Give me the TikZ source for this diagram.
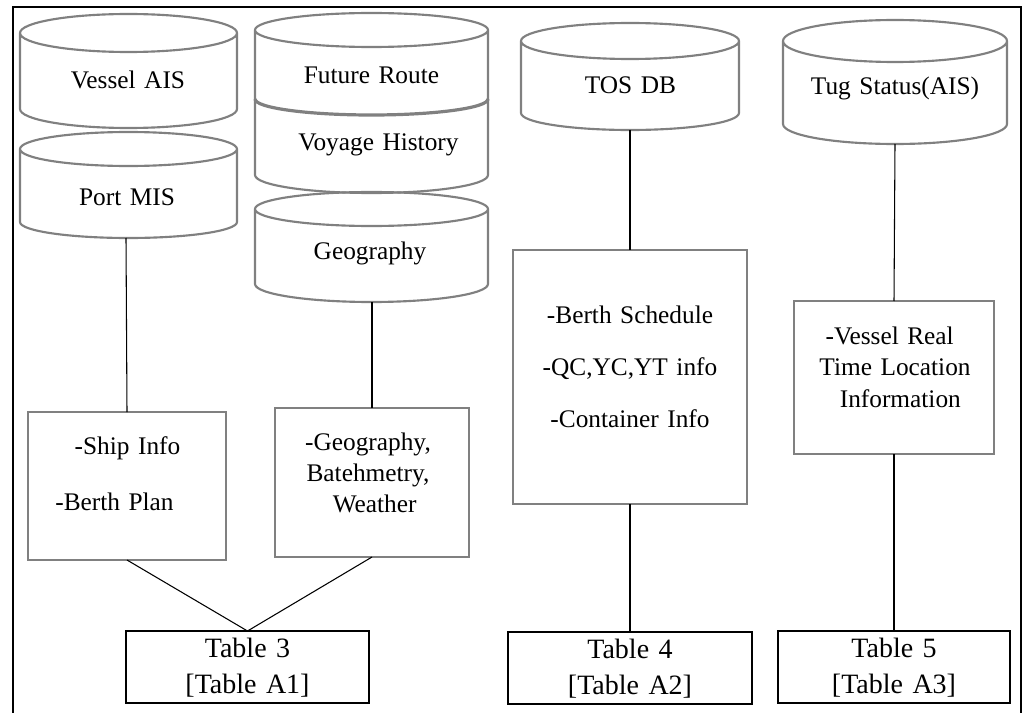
\documentclass[tikz,border=0pt]{standalone}
\usepackage{fontspec}
\setmainfont{Liberation Serif}[WordSpace={1.35}]
\definecolor{outl}{HTML}{808080}
\tikzset{
  cylst/.style={draw=outl, line width=1.6pt, line join=round},
  infobox/.style={draw=outl, line width=1.3pt, inner sep=0pt, outer sep=0pt},
  tablebox/.style={draw=black, line width=2pt, inner sep=0pt, outer sep=0pt},
  lbl/.style={font=\fontsize{19}{23}\selectfont, inner sep=0pt, align=center},
  tlbl/.style={font=\fontsize{21}{27}\selectfont, inner sep=0pt, align=center},
  conn/.style={draw=black, line width=0.8pt}
}
\newcommand\dbcyl[6]{%
  \pgfmathsetmacro\rx{(#2-#1)/2}%
  \draw[cylst] (#1,-#3) arc[start angle=180,end angle=-180,x radius=\rx,y radius=#5]
     -- (#1,-#4) arc[start angle=180,end angle=360,x radius=\rx,y radius=#6] -- (#2,-#3);%
}
\begin{document}
\begin{tikzpicture}[x=0.75pt,y=0.75pt]
\useasboundingbox (0,0) rectangle (1024,-713);
\fill[white] (0,0) rectangle (1024,-713);
% frame
\draw[line width=1.5pt] (13,-713) -- (13,-7) -- (1021,-7) -- (1021,-713);

% cylinders
\dbcyl{20}{237}{33}{109}{19}{19}
\dbcyl{20}{237}{149}{222}{17}{16}
\dbcyl{255}{488}{30}{175}{17}{18}
\pgfmathsetmacro\rxs{(488-255)/2}
\draw[draw=outl, line width=2.4pt] (255,-99) arc[start angle=180,end angle=360,x radius=\rxs,y radius=16];
\dbcyl{255}{488}{209}{284}{17}{18}
\dbcyl{521}{739}{41}{113}{18}{17}
\dbcyl{783}{1007}{41}{124}{21}{20}

\node[lbl] (vais) at (128,-80) {Vessel AIS};
\node[lbl] (pmis) at (127,-197) {Port MIS};
\node[lbl] (froute) at (371.5,-75) {Future Route};
\node[lbl] (vhist) at (378.5,-145) {Voyage History};
\node[lbl] (geogr) at (370,-253) {Geography};
\node[lbl] (tosdb) at (630.5,-85) {TOS DB};
\node[lbl] (tug) at (895,-88) {Tug Status(AIS)};

\coordinate (portbot) at (126,-238);
\coordinate (geobot) at (372,-302);
\coordinate (tosbot) at (630,-130);
\coordinate (tugbot) at (895,-144);

% info boxes
\node[infobox, minimum width=198*0.75pt, minimum height=148*0.75pt] (ship) at (127,-486) {};
\node[lbl] (shipa) at (127.5,-448) {-Ship Info};
\node[lbl] (shipb) at (114.5,-502) {-Berth Plan};

\node[infobox, minimum width=194*0.75pt, minimum height=149*0.75pt] (geo) at (372,-482.5) {};
\node[lbl, font=\fontsize{19}{23.3}\selectfont] (geot) at (368,-473) {-Geography,\\Batehmetry,\\\hspace*{10pt}Weather};

\node[infobox, minimum width=234*0.75pt, minimum height=254*0.75pt] (tos) at (630,-377) {};
\node[lbl, font=\fontsize{19}{39}\selectfont] (tost) at (630,-367) {-Berth Schedule\\-QC,YC,YT info\\-Container Info};

\node[infobox, minimum width=200*0.75pt, minimum height=153*0.75pt] (vr) at (894,-377.5) {};
\node[lbl, font=\fontsize{19}{23.6}\selectfont] (vrt) at (895,-367) {-Vessel Real\hspace*{8pt}\\Time Location\\\hspace*{8pt}Information};

% table boxes
\node[tablebox, minimum width=243*0.75pt, minimum height=72*0.75pt] (t3) at (247.5,-667) {};
\node[tlbl] (t3t) at (247.5,-668) {Table 3\\{}[Table A1]};
\node[tablebox, minimum width=244*0.75pt, minimum height=72*0.75pt] (t4) at (630,-668) {};
\node[tlbl] (t4t) at (630,-669) {Table 4\\{}[Table A2]};
\node[tablebox, minimum width=232*0.75pt, minimum height=72*0.75pt] (t5) at (894,-667) {};
\node[tlbl] (t5t) at (894,-668) {Table 5\\{}[Table A3]};

% connectors
\draw[conn] (portbot) -- (ship.north);
\draw[conn] (geobot) -- (geo.north);
\draw[conn] (ship.south) -- (t3.north);
\draw[conn] (geo.south) -- (t3.north);
\draw[conn] (tosbot) -- (tos.north);
\draw[conn] (tos.south) -- (t4.north);
\draw[conn] (tugbot) -- (vr.north);
\draw[conn] (vr.south) -- (t5.north);
\end{tikzpicture}
\end{document}
